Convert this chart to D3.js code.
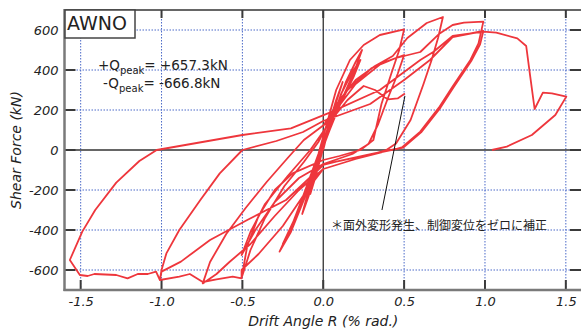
<!DOCTYPE html>
<html>
<head>
<meta charset="utf-8">
<script src="https://cdn.jsdelivr.net/npm/d3@7"></script>
<style>
  html, body { margin: 0; padding: 0; background: #fff; }
  svg { display: block; }
</style>
</head>
<body>
<div id="chart"></div>
<script>
// --- CONFIGURATION ---
const WIDTH = 581;
const HEIGHT = 332;
const FONT = "'DejaVu Sans', sans-serif";
const RED = "#ee363c";

// --- DATA (drift angle R in % rad, shear force in kN) ---
const xTicks = [-1.5, -1.0, -0.5, 0.0, 0.5, 1.0, 1.5];
const yTicks = [-600, -400, -200, 0, 200, 400, 600];

// small elastic cycles
const smallCycles = [
  [0, 0], [0.03, 100], [0.07, 220], [0.04, 140], [-0.01, 10], [-0.05, -120], [-0.08, -220], [-0.05, -140], [0, 10],
  [0.06, 190], [0.12, 340], [0.08, 250], [0.02, 90], [-0.06, -110], [-0.13, -320], [-0.09, -230], [-0.02, -30]
];
// +-0.25 % cycles
const cycles025 = [
  [0.06, 170], [0.14, 340], [0.2, 440], [0.24, 500], [0.2, 410], [0.13, 280], [0.04, 100], [-0.04, -70],
  [-0.12, -250], [-0.2, -410], [-0.27, -508], [-0.22, -420], [-0.15, -300], [-0.06, -100], [0.03, 90],
  [0.11, 280], [0.18, 390], [0.23, 450], [0.19, 370], [0.1, 220], [0, 40], [-0.09, -160], [-0.18, -350],
  [-0.25, -470], [-0.2, -390], [-0.12, -220], [-0.03, -20]
];
// +-0.5 % cycles, ending where the control displacement was reset
const cycles050 = [
  [0.08, 300], [0.165, 450], [0.25, 525], [0.35, 575], [0.5, 603], [0.47, 500], [0.42, 380], [0.36, 230],
  [0.31, 50], [0.23, 0], [0.1, -30], [0, -50], [-0.19, -117], [-0.3, -200], [-0.4, -330], [-0.47, -480],
  [-0.505, -640], [-0.45, -500], [-0.36, -340], [-0.24, -180], [-0.12, -60], [-0.03, 40], [0.06, 180],
  [0.2, 330], [0.36, 433], [0.5, 475], [0.46, 380], [0.4, 260], [0.34, 130], [0.28, 30], [0.18, -20],
  [0, -70], [-0.15, -140], [-0.3, -260], [-0.42, -400], [-0.505, -525], [-0.45, -410], [-0.36, -270],
  [-0.22, -130], [-0.08, 0], [0.05, 150], [0.15, 250], [0.25, 320], [0.32, 300], [0.4, 253], [0.46, 258],
  [0.505, 282]
];
// +-0.75 % cycle
const cycles075 = [
  [0.0, 120], [0.1, 250], [0.2, 350], [0.32, 420], [0.43, 470], [0.52, 560], [0.64, 635], [0.74, 665],
  [0.71, 560], [0.67, 450], [0.62, 330], [0.54, 150], [0.45, 33], [0.39, 0], [0.2, -45], [0, -95],
  [-0.15, -200], [-0.3, -330], [-0.45, -470], [-0.58, -560], [-0.66, -620], [-0.745, -667],
  [-0.7, -560], [-0.6, -420], [-0.48, -290], [-0.35, -160], [-0.22, -40], [-0.12, 50], [0.02, 135]
];
// +-1.0 % cycles
const cycles100 = [
  [0.15, 300], [0.3, 410], [0.45, 460], [0.6, 490], [0.72, 583], [0.8, 625], [0.87, 637], [0.99, 642],
  [0.96, 533], [0.91, 450], [0.8, 317], [0.72, 217], [0.6, 92], [0.49, 15], [0.45, 5], [0.3, -20],
  [0.08, -58], [0, -75], [-0.23, -250], [-0.47, -350], [-0.7, -450], [-0.88, -558], [-1.0, -608],
  [-1.01, -650], [-1.0, -600], [-0.97, -517], [-0.89, -400], [-0.76, -250], [-0.64, -117], [-0.5, 0],
  [-0.29, 45], [-0.125, 90], [0.0, 145], [0.29, 230], [0.5, 350], [0.66, 450], [0.8, 565], [0.99, 595],
  [0.97, 528], [0.915, 445], [0.805, 312], [0.725, 212], [0.605, 88], [0.495, 12], [0.42, 0], [0.2, -45], [0, -95]
];
// -1.5 % excursion and final +1.5 % push
const cycles150 = [
  [-0.1, -200], [-0.25, -380], [-0.4, -520], [-0.505, -600], [-0.505, -642], [-0.56, -633], [-0.66, -647],
  [-0.745, -660], [-0.825, -620], [-0.89, -633], [-1.01, -650], [-1.034, -608], [-1.085, -620],
  [-1.147, -620], [-1.21, -642], [-1.28, -625], [-1.415, -620], [-1.457, -630], [-1.505, -625],
  [-1.567, -550], [-1.49, -408], [-1.41, -300], [-1.28, -163], [-1.137, -55], [-1.03, 0], [-0.5, 75],
  [-0.2, 108], [0.04, 187], [0.35, 300], [0.6, 450], [0.68, 490], [0.8, 570], [0.99, 592], [1.07, 587],
  [1.2, 558], [1.255, 520], [1.28, 367], [1.307, 205], [1.358, 287], [1.414, 283], [1.503, 267],
  [1.435, 175], [1.29, 75], [1.135, 17], [1.043, 0]
];
// leader line of the note: [R, Q] at both ends
const noteLine = [[0.363, -300], [0.505, 270]];

function drawChart() {
    const x = d3.scaleLinear().domain([-1.6, 1.6]).range([64.5, 582]);
    const y = d3.scaleLinear().domain([-700, 700]).range([290, 10]);

    const svg = d3.select("#chart")
        .append("svg")
        .attr("width", WIDTH)
        .attr("height", HEIGHT)
        .style("font-family", FONT);

    const x0 = x.range()[0], x1 = WIDTH, y0 = y.range()[0], y1 = y.range()[1];

    // blue dotted grid
    const grid = svg.append("g")
        .attr("stroke", "#4a69c8")
        .attr("stroke-width", 1)
        .attr("stroke-dasharray", "1.5,1.5");
    grid.selectAll(".gx")
        .data(xTicks.filter(d => d !== 0))
        .join("line")
        .attr("x1", d => x(d)).attr("x2", d => x(d))
        .attr("y1", y1).attr("y2", y0);
    grid.selectAll(".gy")
        .data(yTicks.filter(d => d !== 0))
        .join("line")
        .attr("x1", x0).attr("x2", x1)
        .attr("y1", d => y(d)).attr("y2", d => y(d));

    // zero lines and top frame
    svg.append("line")
        .attr("x1", x(0)).attr("x2", x(0)).attr("y1", y1).attr("y2", y0)
        .attr("stroke", "#333").attr("stroke-width", 1.3);
    svg.append("line")
        .attr("x1", x0).attr("x2", x1).attr("y1", y(0)).attr("y2", y(0))
        .attr("stroke", "#333").attr("stroke-width", 1.3);
    svg.append("line")
        .attr("x1", x0).attr("x2", x1).attr("y1", y1).attr("y2", y1)
        .attr("stroke", "#333").attr("stroke-width", 1.5);

    // inward tick marks on all four sides
    const ticks = svg.append("g").attr("stroke", "#3a3a3a").attr("stroke-width", 2);
    ticks.selectAll(".tl").data(yTicks).join("line")
        .attr("x1", x0).attr("x2", x0 + 11).attr("y1", d => y(d)).attr("y2", d => y(d));
    ticks.selectAll(".tr").data(yTicks).join("line")
        .attr("x1", x1 - 11).attr("x2", x1).attr("y1", d => y(d)).attr("y2", d => y(d));
    ticks.selectAll(".tt").data(xTicks).join("line")
        .attr("x1", d => x(d)).attr("x2", d => x(d)).attr("y1", y1).attr("y2", y1 + 8);
    ticks.selectAll(".tb").data(xTicks).join("line")
        .attr("x1", d => x(d)).attr("x2", d => x(d)).attr("y1", y0 - 10).attr("y2", y0);

    // hysteresis curve
    const path = [...smallCycles, ...cycles025, ...cycles050, null, ...cycles075, ...cycles100, ...cycles150];
    const line = d3.line()
        .defined(d => d !== null)
        .x(d => x(d[0]))
        .y(d => y(d[1]));
    svg.append("path")
        .datum(path)
        .attr("fill", "none")
        .attr("stroke", RED)
        .attr("stroke-width", 1.8)
        .attr("stroke-linejoin", "round")
        .attr("d", line);

    // gray left / bottom axis lines
    svg.append("line")
        .attr("x1", x0).attr("x2", x0).attr("y1", y1 - 1).attr("y2", y0 + 1)
        .attr("stroke", "#7a7a7a").attr("stroke-width", 2.5);
    svg.append("line")
        .attr("x1", x0 - 1).attr("x2", x1).attr("y1", y0).attr("y2", y0)
        .attr("stroke", "#7a7a7a").attr("stroke-width", 2.5);

    // tick labels
    const yAxis = d3.axisLeft(y).tickValues(yTicks).tickSize(0).tickPadding(3).tickFormat(d => String(d));
    svg.append("g")
        .attr("transform", `translate(${x0 - 3},0)`)
        .call(yAxis)
        .call(g => g.select(".domain").remove())
        .selectAll("text")
        .attr("font-family", FONT)
        .attr("font-size", "13px")
        .attr("font-style", "italic")
        .attr("fill", "#222");

    const xAxis = d3.axisBottom(x).tickValues(xTicks).tickSize(0).tickPadding(7).tickFormat(d => d.toFixed(1));
    svg.append("g")
        .attr("transform", `translate(0,${y0})`)
        .call(xAxis)
        .call(g => g.select(".domain").remove())
        .selectAll("text")
        .attr("font-family", FONT)
        .attr("font-size", "13px")
        .attr("font-style", "italic")
        .attr("fill", "#222");

    // axis titles
    svg.append("text")
        .attr("x", x(0)).attr("y", 326)
        .attr("text-anchor", "middle")
        .attr("font-size", "14px").attr("font-style", "italic").attr("fill", "#222")
        .text("Drift Angle R (% rad.)");
    svg.append("text")
        .attr("transform", `translate(21,${y(0)}) rotate(-90)`)
        .attr("text-anchor", "middle")
        .attr("font-size", "14px").attr("font-style", "italic").attr("fill", "#222")
        .text("Shear Force (kN)");

    // specimen name box
    svg.append("rect")
        .attr("x", 65).attr("y", 10).attr("width", 70).attr("height", 28)
        .attr("fill", "#fff").attr("stroke", "#444").attr("stroke-width", 1.5);
    svg.append("text")
        .attr("x", 67).attr("y", 30)
        .attr("font-size", "19px").attr("fill", "#222")
        .text("AWNO");

    // peak values
    const peaks = [["+", "= +657.3kN", 98, 70], ["-", "= -666.8kN", 103, 88]];
    peaks.forEach(p => {
        const t = svg.append("text")
            .attr("x", p[2]).attr("y", p[3])
            .attr("font-size", "13.5px").attr("fill", "#222");
        t.append("tspan").text(p[0] + "Q");
        t.append("tspan").attr("font-size", "10px").attr("dy", 4).text("peak");
        t.append("tspan").attr("dy", -4).text(p[1]);
    });

    // note and leader line
    svg.append("line")
        .attr("x1", x(noteLine[0][0])).attr("y1", y(noteLine[0][1]))
        .attr("x2", x(noteLine[1][0])).attr("y2", y(noteLine[1][1]))
        .attr("stroke", "#111").attr("stroke-width", 1);
    svg.append("text")
        .attr("x", 331).attr("y", 230)
        .attr("font-family", "'Noto Sans CJK JP', sans-serif")
        .attr("font-size", "12px").attr("fill", "#222")
        .text("＊面外変形発生、制御変位をゼロに補正");
}

drawChart();
</script>
</body>
</html>
